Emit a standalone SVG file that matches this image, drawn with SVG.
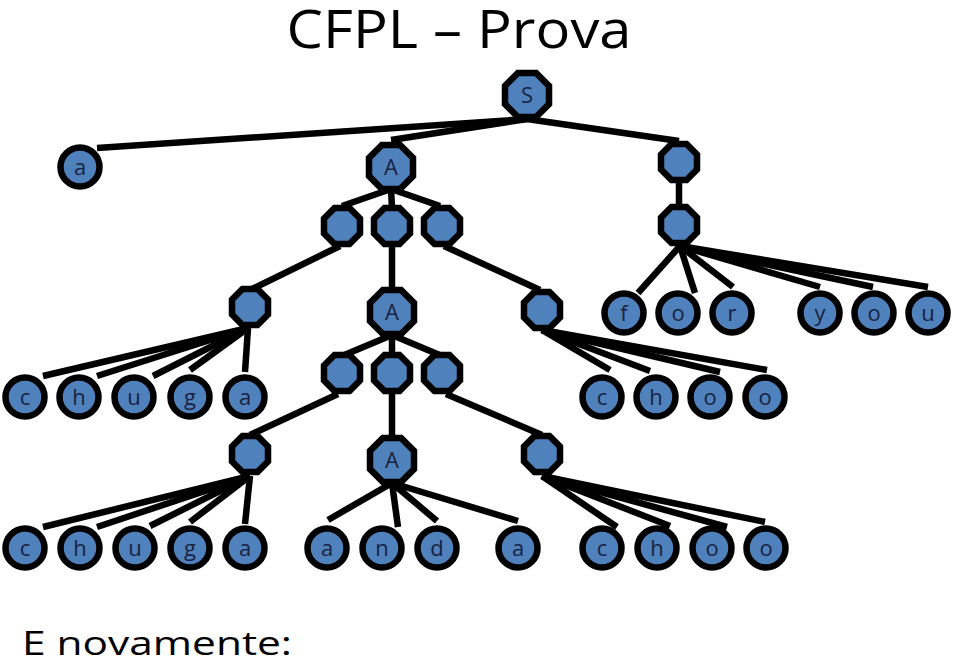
<svg xmlns="http://www.w3.org/2000/svg" xmlns:xlink="http://www.w3.org/1999/xlink" width="959" height="664" viewBox="0 0 959 664">
<style>
.e line{stroke:#000;stroke-width:6.5;stroke-linecap:butt}
.n{fill:#4f81bd;stroke:#000;stroke-width:6.5;stroke-linejoin:miter}
.t{font-family:"Open Sans","Liberation Sans",sans-serif;font-size:22px;fill:#1a2240;text-anchor:middle}
.h{font-family:"Open Sans","Liberation Sans",sans-serif;fill:#000}
</style>
<defs>
<polygon id="os" class="n" points="-7.5,-18 7.5,-18 18,-7.5 18,7.5 7.5,18 -7.5,18 -18,7.5 -18,-7.5"/>
<polygon id="ob" class="n" points="-9.1,-22 9.1,-22 22,-9.1 22,9.1 9.1,22 -9.1,22 -22,9.1 -22,-9.1"/>
<circle id="lf" class="n" r="19.5"/>
</defs>
<rect width="959" height="664" fill="#fff"/>
<text class="h" x="459" y="48" font-size="53" text-anchor="middle" textLength="345" lengthAdjust="spacingAndGlyphs">CFPL – Prova</text>
<text class="h" x="22" y="655" font-size="33" textLength="270" lengthAdjust="spacingAndGlyphs">E novamente:</text>
<g id="connectors" class="e">
<line x1="527" y1="119" x2="97" y2="148"/>
<line x1="527" y1="119" x2="391" y2="140"/>
<line x1="527" y1="119" x2="679" y2="141"/>
<line x1="679" y1="180" x2="679" y2="208"/>
<line x1="680" y1="246" x2="638" y2="293"/>
<line x1="680" y1="246" x2="695" y2="293"/>
<line x1="680" y1="246" x2="733" y2="287"/>
<line x1="680" y1="246" x2="820" y2="287"/>
<line x1="680" y1="246" x2="873" y2="287"/>
<line x1="680" y1="246" x2="928" y2="287"/>
<line x1="391" y1="189" x2="342" y2="206"/>
<line x1="391" y1="189" x2="392" y2="208"/>
<line x1="391" y1="189" x2="440" y2="206"/>
<line x1="340" y1="246" x2="250" y2="290"/>
<line x1="392" y1="244" x2="392" y2="290"/>
<line x1="444" y1="246" x2="540" y2="290"/>
<line x1="248" y1="328" x2="43" y2="376"/>
<line x1="248" y1="328" x2="97" y2="376"/>
<line x1="248" y1="328" x2="153" y2="376"/>
<line x1="248" y1="328" x2="190" y2="370"/>
<line x1="248" y1="328" x2="245" y2="372"/>
<line x1="542" y1="330" x2="610" y2="370"/>
<line x1="542" y1="330" x2="650" y2="371"/>
<line x1="542" y1="330" x2="720" y2="372"/>
<line x1="542" y1="330" x2="767" y2="370"/>
<line x1="392" y1="335" x2="342" y2="356"/>
<line x1="392" y1="335" x2="392" y2="356"/>
<line x1="392" y1="335" x2="442" y2="356"/>
<line x1="338" y1="394" x2="250" y2="435"/>
<line x1="392" y1="392" x2="392" y2="440"/>
<line x1="446" y1="394" x2="542" y2="435"/>
<line x1="250" y1="476" x2="43" y2="527"/>
<line x1="250" y1="476" x2="97" y2="527"/>
<line x1="250" y1="476" x2="150" y2="526"/>
<line x1="250" y1="476" x2="190" y2="522"/>
<line x1="250" y1="476" x2="245" y2="524"/>
<line x1="392" y1="483" x2="328" y2="520"/>
<line x1="392" y1="483" x2="398" y2="527"/>
<line x1="392" y1="483" x2="437" y2="521"/>
<line x1="392" y1="483" x2="518" y2="521"/>
<line x1="542" y1="476" x2="617" y2="527"/>
<line x1="542" y1="476" x2="670" y2="526"/>
<line x1="542" y1="476" x2="727" y2="527"/>
<line x1="542" y1="476" x2="765" y2="522"/>
</g>
<g id="S"><use xlink:href="#ob" x="527" y="95"/><text class="t" x="527" y="103">S</text></g>
<g id="leaf-a0"><use xlink:href="#lf" x="80" y="167"/><text class="t" x="80" y="175">a</text></g>
<g id="A1"><use xlink:href="#ob" x="391" y="167"/><text class="t" x="391" y="175">A</text></g>
<g id="R1"><use xlink:href="#os" x="679" y="162"/></g>
<g id="R2"><use xlink:href="#os" x="679" y="225"/></g>
<g id="leaf-f"><use xlink:href="#lf" x="624" y="313"/><text class="t" x="624" y="321">f</text></g>
<g id="leaf-o1"><use xlink:href="#lf" x="678" y="313"/><text class="t" x="678" y="321">o</text></g>
<g id="leaf-r"><use xlink:href="#lf" x="732" y="313"/><text class="t" x="732" y="321">r</text></g>
<g id="leaf-y"><use xlink:href="#lf" x="820" y="313"/><text class="t" x="820" y="321">y</text></g>
<g id="leaf-o2"><use xlink:href="#lf" x="874" y="313"/><text class="t" x="874" y="321">o</text></g>
<g id="leaf-u"><use xlink:href="#lf" x="928" y="313"/><text class="t" x="928" y="321">u</text></g>
<g id="L2a"><use xlink:href="#os" x="342" y="226"/></g>
<g id="L2b"><use xlink:href="#os" x="392" y="226"/></g>
<g id="L2c"><use xlink:href="#os" x="442" y="226"/></g>
<g id="C1"><use xlink:href="#os" x="250" y="307"/></g>
<g id="A2"><use xlink:href="#ob" x="392" y="312"/><text class="t" x="392" y="320">A</text></g>
<g id="H1"><use xlink:href="#os" x="542" y="310"/></g>
<g id="leaf-c1"><use xlink:href="#lf" x="25" y="397"/><text class="t" x="25" y="405">c</text></g>
<g id="leaf-h1"><use xlink:href="#lf" x="79" y="397"/><text class="t" x="79" y="405">h</text></g>
<g id="leaf-u1"><use xlink:href="#lf" x="134" y="397"/><text class="t" x="134" y="405">u</text></g>
<g id="leaf-g1"><use xlink:href="#lf" x="190" y="397"/><text class="t" x="190" y="405">g</text></g>
<g id="leaf-a1"><use xlink:href="#lf" x="245" y="397"/><text class="t" x="245" y="405">a</text></g>
<g id="leaf-c2"><use xlink:href="#lf" x="602" y="397"/><text class="t" x="602" y="405">c</text></g>
<g id="leaf-h2"><use xlink:href="#lf" x="656" y="397"/><text class="t" x="656" y="405">h</text></g>
<g id="leaf-o3"><use xlink:href="#lf" x="710" y="397"/><text class="t" x="710" y="405">o</text></g>
<g id="leaf-o4"><use xlink:href="#lf" x="765" y="397"/><text class="t" x="765" y="405">o</text></g>
<g id="L4a"><use xlink:href="#os" x="342" y="373"/></g>
<g id="L4b"><use xlink:href="#os" x="392" y="373"/></g>
<g id="L4c"><use xlink:href="#os" x="442" y="373"/></g>
<g id="C2"><use xlink:href="#os" x="250" y="454"/></g>
<g id="A3"><use xlink:href="#ob" x="392" y="460"/><text class="t" x="392" y="468">A</text></g>
<g id="H2"><use xlink:href="#os" x="542" y="454"/></g>
<g id="leaf-c3"><use xlink:href="#lf" x="25" y="548"/><text class="t" x="25" y="556">c</text></g>
<g id="leaf-h3"><use xlink:href="#lf" x="80" y="548"/><text class="t" x="80" y="556">h</text></g>
<g id="leaf-u3"><use xlink:href="#lf" x="135" y="548"/><text class="t" x="135" y="556">u</text></g>
<g id="leaf-g3"><use xlink:href="#lf" x="190" y="548"/><text class="t" x="190" y="556">g</text></g>
<g id="leaf-a3"><use xlink:href="#lf" x="245" y="548"/><text class="t" x="245" y="556">a</text></g>
<g id="leaf-a4"><use xlink:href="#lf" x="327" y="548"/><text class="t" x="327" y="556">a</text></g>
<g id="leaf-n4"><use xlink:href="#lf" x="382" y="548"/><text class="t" x="382" y="556">n</text></g>
<g id="leaf-d4"><use xlink:href="#lf" x="437" y="548"/><text class="t" x="437" y="556">d</text></g>
<g id="leaf-a5"><use xlink:href="#lf" x="518" y="548"/><text class="t" x="518" y="556">a</text></g>
<g id="leaf-c5"><use xlink:href="#lf" x="602" y="548"/><text class="t" x="602" y="556">c</text></g>
<g id="leaf-h5"><use xlink:href="#lf" x="657" y="548"/><text class="t" x="657" y="556">h</text></g>
<g id="leaf-o5"><use xlink:href="#lf" x="712" y="548"/><text class="t" x="712" y="556">o</text></g>
<g id="leaf-o6"><use xlink:href="#lf" x="766" y="548"/><text class="t" x="766" y="556">o</text></g>
</svg>
